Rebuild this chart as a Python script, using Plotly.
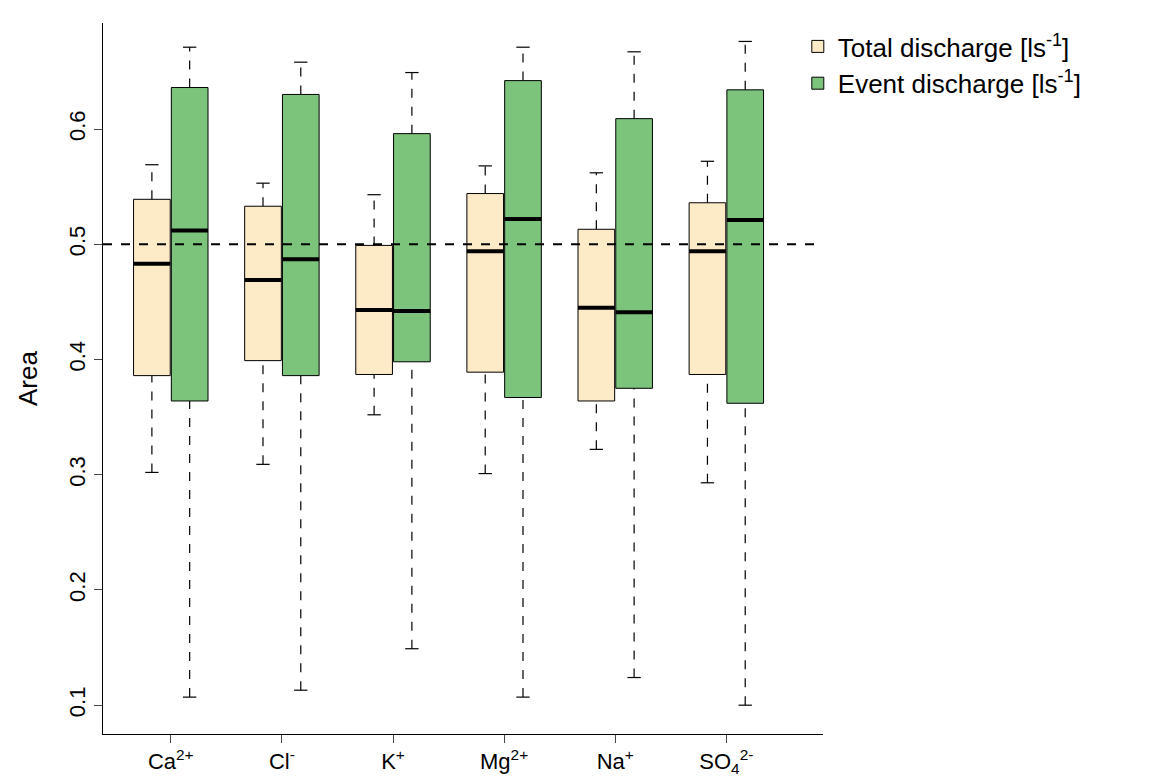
import plotly.graph_objects as go

ions = ["Ca<sup>2+</sup>", "Cl<sup>-</sup>", "K<sup>+</sup>", "Mg<sup>2+</sup>", "Na<sup>+</sup>", "SO<sub>4</sub><sup>2-</sup>"]
tot_low = [0.302, 0.309, 0.352, 0.301, 0.322, 0.293]
tot_q1 = [0.386, 0.399, 0.387, 0.389, 0.364, 0.387]
tot_med = [0.483, 0.469, 0.443, 0.494, 0.445, 0.494]
tot_q3 = [0.539, 0.533, 0.499, 0.544, 0.513, 0.536]
tot_up = [0.569, 0.553, 0.543, 0.568, 0.562, 0.572]
ev_low = [0.107, 0.113, 0.149, 0.107, 0.124, 0.100]
ev_q1 = [0.364, 0.386, 0.398, 0.367, 0.375, 0.362]
ev_med = [0.512, 0.487, 0.442, 0.522, 0.441, 0.521]
ev_q3 = [0.636, 0.630, 0.596, 0.642, 0.609, 0.634]
ev_up = [0.671, 0.658, 0.649, 0.671, 0.667, 0.676]

off, bw, cap = 0.17, 0.33, 0.06
fig = go.Figure()
series = [("Total discharge [ls<sup>-1</sup>]", "#FDEBC8", -off, tot_low, tot_q1, tot_med, tot_q3, tot_up),
          ("Event discharge [ls<sup>-1</sup>]", "#7CC47C", off, ev_low, ev_q1, ev_med, ev_q3, ev_up)]
for name, col, o, lo, q1, med, q3, up in series:
    xs = [i + 1 + o for i in range(len(ions))]
    wx, wy, cx, cy, mx, my = [], [], [], [], [], []
    for x, a, b, c, d, m in zip(xs, lo, q1, q3, up, med):
        wx += [x, x, None, x, x, None]
        wy += [a, b, None, c, d, None]
        cx += [x - cap, x + cap, None, x - cap, x + cap, None]
        cy += [a, a, None, d, d, None]
        mx += [x - bw / 2, x + bw / 2, None]
        my += [m, m, None]
    fig.add_trace(go.Scatter(x=wx, y=wy, mode="lines", line=dict(color="black", width=1.2, dash="dash"),
                             showlegend=False, hoverinfo="skip"))
    fig.add_trace(go.Scatter(x=cx, y=cy, mode="lines", line=dict(color="black", width=1.2),
                             showlegend=False, hoverinfo="skip"))
    fig.add_trace(go.Box(name=name, x=xs, q1=q1, median=med, q3=q3, lowerfence=q1, upperfence=q3,
                         width=bw, fillcolor=col, line=dict(color="black", width=1), whiskerwidth=0,
                         boxpoints=False))
    fig.add_trace(go.Scatter(x=mx, y=my, mode="lines", line=dict(color="black", width=4),
                             showlegend=False, hoverinfo="skip"))

fig.add_hline(y=0.5, line=dict(color="black", width=2, dash="dash"))
fig.update_layout(
    width=1176, height=781, plot_bgcolor="white", paper_bgcolor="white",
    margin=dict(l=95, r=361, t=15, b=38),
    font=dict(family="Liberation Sans, Arial", size=22, color="black"),
    boxmode="overlay",
    legend=dict(x=0.965, y=1.0, xanchor="left", yanchor="top", font=dict(size=26),
                bgcolor="rgba(0,0,0,0)", traceorder="normal"),
    xaxis=dict(range=[0.39, 6.87], tickmode="array", tickvals=list(range(1, 7)), ticktext=ions,
               showline=True, linecolor="black", ticks="outside", ticklen=8, showgrid=False, zeroline=False),
    yaxis=dict(range=[0.075, 0.692], tickvals=[0.1, 0.2, 0.3, 0.4, 0.5, 0.6], tickangle=-90,
               showline=True, linecolor="black", ticks="outside", ticklen=8, showgrid=False, zeroline=False,
               title=dict(text="Area", font=dict(size=26), standoff=20)),
)
fig.write_html("out.html")
